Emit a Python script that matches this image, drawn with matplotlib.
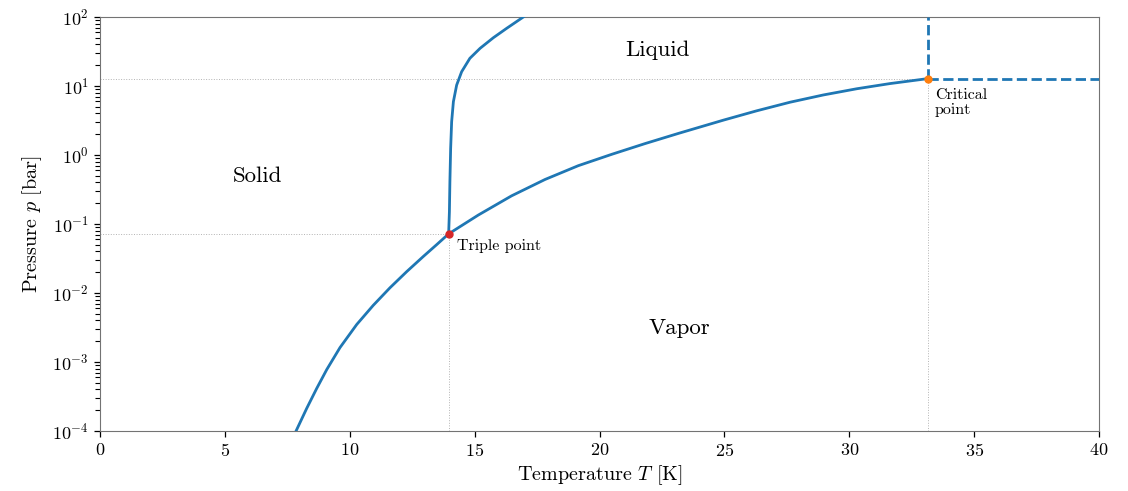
import matplotlib
matplotlib.use("Agg")
import matplotlib.pyplot as plt
import matplotlib.ticker as mticker
import numpy as np

plt.rcParams['font.family'] = 'serif'
plt.rcParams['font.serif'] = ['cmr10', 'DejaVu Serif']
plt.rcParams['mathtext.fontset'] = 'cm'
plt.rcParams['axes.formatter.use_mathtext'] = True
plt.rcParams['axes.unicode_minus'] = False
plt.rcParams['ytick.minor.visible'] = True
plt.rcParams['ytick.minor.size'] = 3.5
plt.rcParams['ytick.minor.width'] = 0.8

# Sublimation + vaporization curve (T [K], p [bar])
vap_T = [7.85, 8.28, 8.68, 9.08, 9.61, 10.28, 10.94, 11.61, 12.28, 12.94, 13.48, 13.96,
         15.15, 16.48, 17.82, 19.15, 20.49, 21.82, 23.16, 24.96, 26.29, 27.63, 28.96,
         30.30, 31.63, 33.15]
vap_p = [1.0e-4, 2.14e-4, 4.16e-4, 7.78e-4, 1.62e-3, 3.50e-3, 6.62e-3, 0.0119, 0.0204,
         0.0337, 0.0502, 0.072, 0.135, 0.256, 0.442, 0.700, 1.023, 1.462, 2.056, 3.199,
         4.365, 5.821, 7.413, 9.120, 10.84, 12.8]

# Melting curve
melt_T = [13.96, 13.99, 14.01, 14.04, 14.08, 14.15, 14.28, 14.48, 14.81, 15.22, 15.75,
          16.28, 16.95]
melt_p = [0.072, 0.15, 0.41, 1.25, 3.04, 5.93, 10.3, 16.1, 25.2, 35.2, 50.1, 68.4, 100.0]

triple = (13.96, 0.072)
critical = (33.15, 12.8)

region_labels = ['Solid', 'Liquid', 'Vapor']
region_T = [6.3, 22.3, 23.2]
region_p = [0.5, 33.0, 0.0031]

fig = plt.figure(figsize=(11.28, 4.91), dpi=100)
ax = fig.add_axes([100/1128, 60/491, 999/1128, 414/491])

ax.set_xlim(0, 40)
ax.set_yscale('log')
ax.set_ylim(1e-4, 1e2)

blue = '#1f77b4'
ax.plot(vap_T, vap_p, color=blue, lw=2, zorder=3, solid_joinstyle='round')
ax.plot(melt_T, melt_p, color=blue, lw=2, zorder=3, solid_joinstyle='round')

# supercritical dashed lines
ax.plot([critical[0], critical[0]], [critical[1], 1e2], color=blue, lw=2, ls='--', zorder=3)
ax.plot([critical[0], 40], [critical[1], critical[1]], color=blue, lw=2, ls='--', zorder=3)

# guide lines
gkw = dict(color='0.7', lw=0.7, ls=':', zorder=1)
ax.plot([0, triple[0]], [triple[1], triple[1]], **gkw)
ax.plot([triple[0], triple[0]], [1e-4, triple[1]], **gkw)
ax.plot([0, critical[0]], [critical[1], critical[1]], **gkw)
ax.plot([critical[0], critical[0]], [1e-4, critical[1]], **gkw)

ax.plot(*triple, 'o', color='#d62728', ms=5, zorder=4)
ax.plot(*critical, 'o', color='#ff7f0e', ms=5, zorder=4)

ax.annotate('Triple point', xy=triple, xytext=(6, -4), textcoords='offset points',
            fontsize=11.5, va='top', ha='left')
ax.annotate('Critical\npoint', xy=critical, xytext=(5, -7), textcoords='offset points',
            fontsize=11.5, va='top', ha='left', linespacing=1.05)

for lab, t, p in zip(region_labels, region_T, region_p):
    ax.text(t, p, lab, fontsize=16.5, ha='center', va='center')

ax.set_xlabel('Temperature $T$ [K]', fontsize=14.5, labelpad=3)
ax.set_ylabel('Pressure $p$ [bar]', fontsize=14.5, labelpad=6)
ax.tick_params(labelsize=13)
ax.set_xticks(np.arange(0, 41, 5))
ax.yaxis.set_major_locator(mticker.LogLocator(base=10, numticks=20))
minor_y = [m * 10.0 ** e for e in range(-4, 2) for m in range(2, 10)]
ax.yaxis.set_minor_locator(mticker.FixedLocator(minor_y))
ax.yaxis.set_minor_formatter(mticker.NullFormatter())
ax.tick_params(axis='both', which='major', length=4.5, width=0.9)
ax.tick_params(axis='y', which='minor', length=3.5, width=0.8, left=True, color='black')

for s in ax.spines.values():
    s.set_color('0.45')

fig.savefig('out.png', dpi=100)
